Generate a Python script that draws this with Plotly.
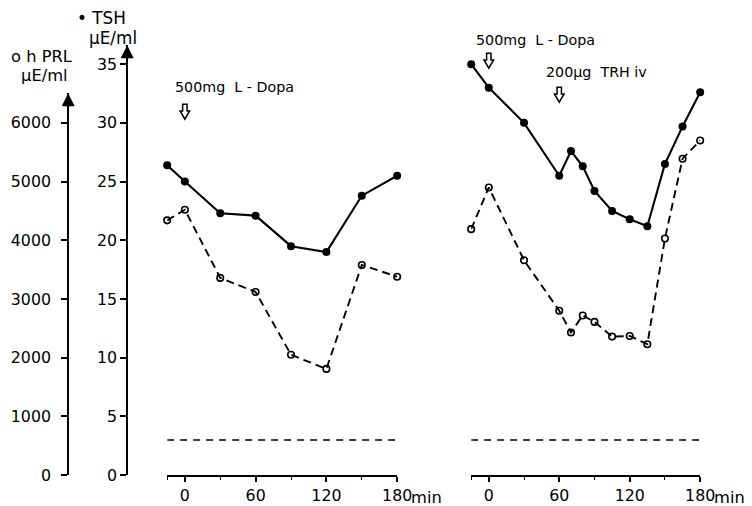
import plotly.graph_objects as go

# ---------------- data ----------------
t_left = [-15, 0, 30, 60, 90, 120, 150, 180]
tsh_left = [26.4, 25.0, 22.3, 22.1, 19.5, 19.0, 23.8, 25.5]
prl_left = [4340, 4520, 3360, 3120, 2050, 1810, 3580, 3380]

t_right = [-15, 0, 30, 60, 70, 80, 90, 105, 120, 135, 150, 165, 180]
tsh_right = [35.0, 33.0, 30.0, 25.5, 27.6, 26.3, 24.2, 22.5, 21.8, 21.2, 26.5, 29.7, 32.6]
prl_right = [4190, 4900, 3660, 2800, 2430, 2720, 2610, 2360, 2370, 2230, 4030, 5390, 5700]

normal_tsh = 3.0  # dashed reference level
x_span = [-15, 180]

tsh_ticks = [0, 5, 10, 15, 20, 25, 30, 35]
prl_ticks = [0, 1000, 2000, 3000, 4000, 5000, 6000]
x_ticks = [0, 60, 120, 180]
x_ticktext = ["0", "60", "120", "180"]

ldopa_time = 0
trh_time = 60

# ---------------- layout geometry ----------------
S = 0.98          # observed render scale of the page
OFF = 8           # body margin
W = int(round(752 / S)) - 2 * OFF
H = int(round(506 / S)) - 2 * OFF
FONT = "DejaVu Sans"
def fx(p): return p / S - OFF
def px_x(p): return fx(p) / W
def px_y(p): return 1 - fx(p) / H
def fs(v): return v / S

y_bottom = 475
tsh_top_px, prl_top_px = 45, 93
tsh_per_px = 35 / (475 - 64)
tsh_max = (y_bottom - tsh_top_px) * tsh_per_px
prl_max = (y_bottom - prl_top_px) * tsh_per_px * 200
min_per_px = (x_span[1] - x_span[0]) / 230.0

fig = go.Figure()

solid = dict(color="black", width=2.1)
dashed = dict(color="black", width=1.9, dash="8px,5px")
filled = dict(symbol="circle", size=8, color="black")
opened = dict(symbol="circle-open", size=6.5, color="black", line=dict(width=1.6))

for xa, t, tsh, prl in [("x", t_left, tsh_left, prl_left), ("x2", t_right, tsh_right, prl_right)]:
    fig.add_trace(go.Scatter(x=x_span, y=[normal_tsh, normal_tsh], xaxis=xa, yaxis="y",
                             mode="lines", line=dict(color="black", width=1.4, dash="7px,6px"),
                             cliponaxis=False, showlegend=False))
    fig.add_trace(go.Scatter(x=t, y=prl, xaxis=xa, yaxis="y3", mode="lines+markers",
                             line=dashed, marker=opened, cliponaxis=False, showlegend=False))
    fig.add_trace(go.Scatter(x=t, y=tsh, xaxis=xa, yaxis="y", mode="lines+markers",
                             line=solid, marker=filled, cliponaxis=False, showlegend=False))

axis_font = dict(family=FONT, size=fs(15.5), color="black")
xcommon = dict(range=x_span, showline=True, linecolor="black", linewidth=2,
               ticks="outside", ticklen=5, tickwidth=1.5, tickcolor="black",
               tickvals=x_ticks, ticktext=x_ticktext, tickfont=axis_font,
               showgrid=False, zeroline=False, anchor="y",
               minor=dict(tickvals=[-15, 30, 90, 150], ticks="outside", ticklen=3,
                          tickwidth=1.2, tickcolor="black"))

fig.update_layout(
    width=W, height=H,
    margin=dict(l=0, r=0, t=0, b=0),
    paper_bgcolor="white", plot_bgcolor="rgba(0,0,0,0)",
    font=dict(family=FONT, size=14, color="black"),
    xaxis=dict(domain=[px_x(167), px_x(397)], **xcommon),
    xaxis2=dict(domain=[px_x(471), px_x(700)], **xcommon),
    yaxis=dict(domain=[px_y(y_bottom), px_y(tsh_top_px)], range=[0, tsh_max],
               anchor="free", position=px_x(127), showline=True, linecolor="black",
               linewidth=2, ticks="outside", ticklen=6, tickwidth=1.5, tickcolor="black",
               tickvals=tsh_ticks, tickfont=axis_font, showgrid=False, zeroline=False),
    yaxis3=dict(domain=[px_y(y_bottom), px_y(prl_top_px)], range=[0, prl_max],
                anchor="free", position=px_x(68), showline=True, linecolor="black",
                linewidth=2, ticks="outside", ticklen=6, tickwidth=1.5, tickcolor="black",
                ticklabelstandoff=7,
                tickvals=prl_ticks, tickfont=axis_font, showgrid=False, zeroline=False),
)

ann = []
# axis arrowheads
for pos, top, yref in [(px_x(127), tsh_max, "y"), (px_x(68), prl_max, "y3")]:
    ann.append(dict(x=pos, y=top, xref="paper", yref=yref, text="", showarrow=True,
                    ax=0, ay=16, arrowhead=2, arrowsize=1.3, arrowwidth=2, arrowcolor="black"))

# axis titles
tfont = dict(family=FONT, size=fs(16.5))
pfont = dict(family=FONT, size=fs(16))
ann += [
    dict(x=px_x(75), y=px_y(18), xref="paper", yref="paper", text="• TSH",
         showarrow=False, xanchor="left", yanchor="middle", font=tfont),
    dict(x=px_x(87), y=px_y(38), xref="paper", yref="paper", text="µE/ml",
         showarrow=False, xanchor="left", yanchor="middle", font=tfont),
    dict(x=px_x(9), y=px_y(56), xref="paper", yref="paper", text="o h PRL",
         showarrow=False, xanchor="left", yanchor="middle", font=pfont),
    dict(x=px_x(19), y=px_y(75), xref="paper", yref="paper", text="µE/ml",
         showarrow=False, xanchor="left", yanchor="middle", font=pfont),
]

# "min" after 180
for xa in ["x", "x2"]:
    ann.append(dict(x=180, y=0, xref=xa, yref="y", text="min", showarrow=False,
                    xanchor="left", yanchor="top", xshift=12, yshift=-11,
                    font=dict(family=FONT, size=fs(16))))

# treatment labels
lbl_font = dict(family=FONT, size=fs(14))
ann += [
    dict(x=ldopa_time, y=px_y(87), xref="x", yref="paper", text="500mg  L - Dopa", showarrow=False,
         xanchor="left", xshift=-12, yanchor="middle", font=lbl_font),
    dict(x=ldopa_time, y=px_y(40), xref="x2", yref="paper", text="500mg  L - Dopa", showarrow=False,
         xanchor="left", xshift=-15, yanchor="middle", font=lbl_font),
    dict(x=trh_time, y=px_y(72), xref="x2", yref="paper", text="200µg  TRH iv", showarrow=False,
         xanchor="left", xshift=-15, yanchor="middle", font=lbl_font),
]
fig.update_layout(annotations=ann)

# hollow "down" arrows marking the administrations
def hollow_arrow(xref, cx, top_px, height_px=15):
    sw, hw = 2.2 * min_per_px, 4.8 * min_per_px
    mid = top_px + height_px * 0.45
    bot = top_px + height_px
    pts = [(cx - sw, top_px), (cx + sw, top_px), (cx + sw, mid), (cx + hw, mid),
           (cx, bot), (cx - hw, mid), (cx - sw, mid)]
    path = "M " + " L ".join(f"{x:.3f},{px_y(y):.5f}" for x, y in pts) + " Z"
    return dict(type="path", xref=xref, yref="paper", path=path,
                line=dict(color="black", width=1.5), fillcolor="white")

fig.update_layout(shapes=[
    hollow_arrow("x", ldopa_time, 104),
    hollow_arrow("x2", ldopa_time, 53),
    hollow_arrow("x2", trh_time, 87),
])

fig.write_html("out.html")
